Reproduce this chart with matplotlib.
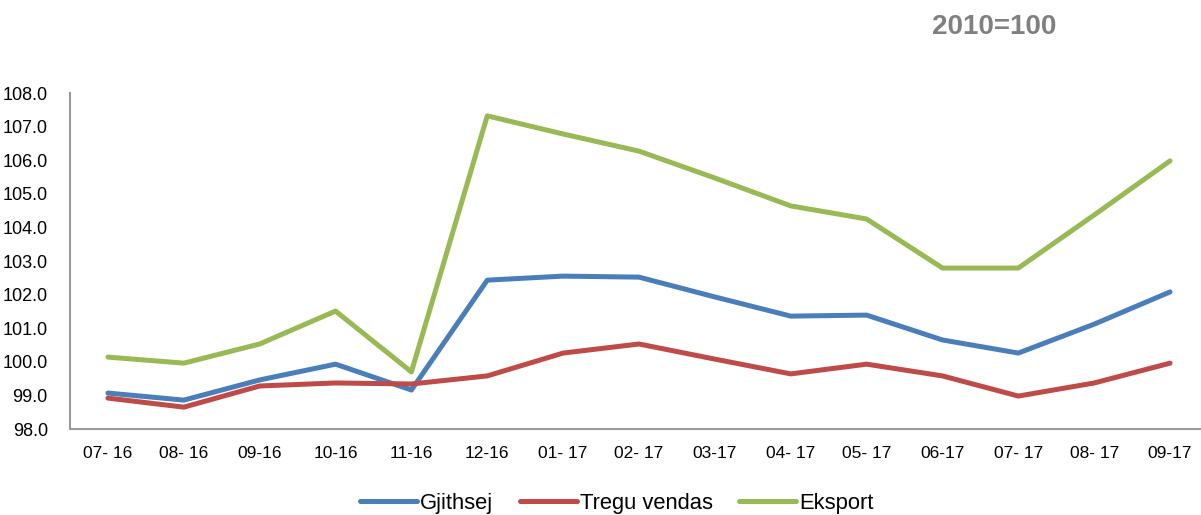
import matplotlib
matplotlib.use("Agg")
import matplotlib.pyplot as plt
import numpy as np

# months on the x axis (labels kept as in the source)
months = ["07- 16", "08- 16", "09-16", "10-16", "11-16", "12-16", "01- 17",
          "02- 17", "03-17", "04- 17", "05- 17", "06-17", "07- 17", "08- 17", "09-17"]

# index values, 2010=100
gjithsej = [99.07, 98.86, 99.46, 99.93, 99.16, 102.43, 102.55, 102.52,
            101.93, 101.36, 101.39, 100.65, 100.26, 101.12, 102.08]
tregu_vendas = [98.92, 98.65, 99.28, 99.37, 99.34, 99.58, 100.26, 100.53,
                100.08, 99.64, 99.93, 99.58, 98.98, 99.37, 99.96]
eksport = [100.14, 99.96, 100.53, 101.51, 99.70, 107.32, 106.78, 106.27,
           105.47, 104.64, 104.25, 102.79, 102.79, 104.37, 105.98]

yticks = np.arange(98.0, 108.01, 1.0)

# colours
blue = '#4A7EBB'
red = '#BE4B48'
green = '#98B954'
grey = '#808080'

plt.rcParams['font.family'] = ['Liberation Sans', 'DejaVu Sans']

fig = plt.figure(figsize=(12.01, 5.15), dpi=100)
ax = fig.add_axes([70 / 1201, 1 - 429 / 515, 1138 / 1201, 336 / 515])

x = np.arange(len(months))
ax.plot(x, gjithsej, color=blue, linewidth=3.6, label='Gjithsej', solid_capstyle='round')
ax.plot(x, tregu_vendas, color=red, linewidth=3.6, label='Tregu vendas', solid_capstyle='round')
ax.plot(x, eksport, color=green, linewidth=3.6, label='Eksport', solid_capstyle='round')

ax.set_xlim(-0.5, len(months) - 0.5)
ax.set_ylim(98, 108)
ax.set_yticks(yticks)
ax.set_yticklabels(['%.1f' % v for v in yticks], fontsize=13)
ax.set_xticks(x)
ax.set_xticklabels(months, fontsize=12.5)
ax.tick_params(axis='both', length=0)
ax.tick_params(axis='x', pad=12)
ax.tick_params(axis='y', pad=16)

for side in ['top', 'right']:
    ax.spines[side].set_visible(False)
for side in ['left', 'bottom']:
    ax.spines[side].set_color('#9a9a9a')
    ax.spines[side].set_linewidth(1.5)

fig.legend(loc='center', bbox_to_anchor=(617 / 1201, 1 - 503 / 515), ncol=3,
           frameon=False, fontsize=15.8, handlelength=2.6, handletextpad=0.15,
           columnspacing=1.2)

fig.text(994 / 1201, 1 - 27 / 515, '2010=100', ha='center', va='center',
         fontsize=20, fontweight='bold', color=grey)

fig.savefig('out.png', dpi=100)
